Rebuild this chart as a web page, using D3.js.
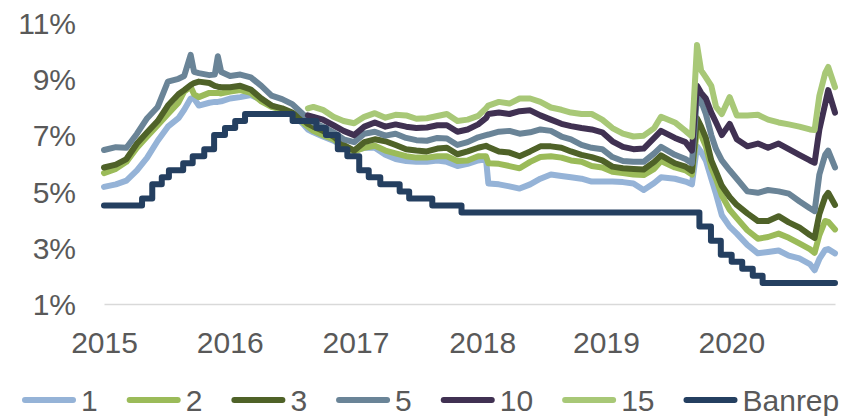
<!DOCTYPE html>
<html>
<head>
<meta charset="utf-8">
<script src="https://cdn.jsdelivr.net/npm/d3@7/dist/d3.min.js"></script>
<style>
  body { margin: 0; background: #fff; }
  text { font-family: "Liberation Sans", Arial, sans-serif; fill: #595959; }
</style>
</head>
<body>
<svg id="chart" width="846" height="416"></svg>
<script>
// observation dates (shared by all the yield series)
var dates = [
  "2015-06-10","2015-07-15","2015-08-15","2015-09-15","2015-10-15","2015-11-15","2015-12-15",
  "2016-01-15","2016-02-01","2016-02-20","2016-03-01","2016-03-15","2016-04-15","2016-05-01","2016-05-10","2016-05-20",
  "2016-06-15","2016-07-15","2016-08-15","2016-09-15","2016-10-15","2016-11-15","2016-12-15",
  "2017-01-15","2017-01-30","2017-02-15","2017-03-15","2017-04-15","2017-05-15","2017-06-15","2017-07-15","2017-08-15",
  "2017-09-15","2017-10-15","2017-11-15","2017-12-15",
  "2018-01-15","2018-02-15","2018-03-15","2018-04-15","2018-05-15","2018-06-15","2018-07-08","2018-07-15","2018-08-15",
  "2018-09-15","2018-10-15","2018-11-15","2018-12-15",
  "2019-01-15","2019-02-15","2019-03-15","2019-04-15","2019-05-15","2019-06-15","2019-07-15","2019-08-15","2019-09-15",
  "2019-10-15","2019-11-15","2019-12-05",
  "2020-01-15","2020-02-15","2020-03-05","2020-03-20","2020-04-01","2020-04-15","2020-05-01","2020-05-15","2020-06-01",
  "2020-06-24","2020-07-15","2020-08-15","2020-09-15","2020-10-15","2020-11-15","2020-12-15",
  "2021-01-15","2021-02-15","2021-03-01","2021-03-15","2021-04-01","2021-04-10","2021-04-30"
];

// yields (%) by tenor in years
var y1 = [
  5.16,5.25,5.38,5.75,6.2,6.8,7.3,
  7.6,7.9,8.3,8.3,8.05,8.15,8.18,8.18,8.2,
  8.3,8.35,8.42,8.25,8.05,7.9,7.75,
  7.4,7.2,7.1,6.95,6.8,6.6,6.45,6.55,6.55,
  6.3,6.15,6.08,6.05,
  6.05,6.1,6.05,5.9,5.98,6.1,6.15,5.28,5.25,
  5.18,5.1,5.25,5.45,
  5.6,5.55,5.5,5.45,5.35,5.35,5.35,5.33,5.28,
  5.05,5.3,5.5,
  5.45,5.35,5.25,6.6,6.4,6.1,5.45,4.9,4.15,
  3.75,3.5,3.1,2.8,2.85,2.9,2.72,
  2.62,2.42,2.2,2.6,2.92,2.95,2.8
];
var y2 = [
  5.65,5.8,6.05,6.55,6.95,7.35,7.75,
  8.15,8.55,8.72,8.45,8.35,8.5,8.5,8.5,8.48,
  8.55,8.6,8.5,8.2,8.0,7.9,7.75,
  7.45,7.3,7.15,7.0,6.85,6.6,6.42,6.55,6.62,
  6.45,6.35,6.25,6.2,
  6.2,6.25,6.25,6.08,6.1,6.25,6.25,6.0,5.98,
  5.9,5.82,6.05,6.22,
  6.25,6.2,6.1,6.05,5.9,5.85,5.7,5.65,5.6,
  5.58,5.8,6.08,
  5.85,5.75,5.6,7.2,7.0,6.6,5.85,5.45,4.85,
  4.35,4.05,3.62,3.32,3.38,3.5,3.35,
  3.15,2.95,2.82,3.45,3.95,3.92,3.65
];
var y3 = [
  5.85,5.95,6.15,6.7,7.1,7.5,8.05,
  8.45,8.6,8.78,8.85,8.9,8.85,8.75,8.72,8.7,
  8.7,8.75,8.62,8.3,8.05,7.95,7.8,
  7.55,7.4,7.3,7.15,6.95,6.65,6.45,6.75,6.85,
  6.78,6.65,6.5,6.45,
  6.42,6.52,6.55,6.32,6.42,6.55,6.62,6.58,6.42,
  6.38,6.25,6.42,6.6,
  6.6,6.55,6.42,6.3,6.22,6.1,5.88,5.82,5.8,
  5.78,6.05,6.28,
  6.0,5.88,5.72,7.6,7.3,6.9,6.1,5.7,5.2,
  4.8,4.52,4.22,3.95,3.95,4.12,3.9,
  3.72,3.45,3.35,4.2,4.8,4.95,4.52
];
var y5 = [
  6.47,6.57,6.55,7.05,7.6,8.0,8.9,
  9.0,9.1,9.85,9.25,9.2,9.13,9.15,9.8,9.24,
  9.1,9.15,9.05,8.75,8.4,8.28,8.1,
  7.75,7.6,7.45,7.3,7.1,6.85,6.75,7.05,7.12,
  6.98,7.05,6.9,6.82,
  6.8,6.9,6.88,6.65,6.75,6.92,7.0,7.02,7.12,
  7.15,7.05,7.1,7.2,
  7.15,6.95,6.85,6.65,6.55,6.5,6.22,6.08,6.05,
  6.05,6.35,6.58,
  6.3,6.15,6.0,8.4,8.2,7.75,7.0,6.5,6.1,
  5.75,5.45,5.0,4.95,5.05,5.0,4.92,
  4.65,4.4,4.3,5.6,6.3,6.45,5.85
];
var y10 = [
  null,null,null,null,null,null,null,
  null,null,null,null,null,null,null,null,null,
  null,null,null,null,null,null,null,
  null,7.7,7.65,7.55,7.35,7.15,7.0,7.3,7.45,
  7.3,7.38,7.3,7.25,
  7.27,7.35,7.35,7.12,7.2,7.38,7.6,7.75,7.8,
  7.75,7.85,7.88,7.7,
  7.55,7.4,7.32,7.25,7.2,7.1,6.78,6.58,6.5,
  6.52,6.9,7.15,
  6.9,6.75,6.45,8.75,8.5,8.3,7.8,7.45,7.0,
  7.4,6.85,6.6,6.7,6.55,6.7,6.5,
  6.3,6.1,6.02,7.2,8.1,8.6,7.8
];
var y15 = [
  null,null,null,null,null,null,null,
  null,null,null,null,null,null,null,null,null,
  null,null,null,null,null,null,null,
  null,7.95,8.0,7.9,7.65,7.5,7.42,7.65,7.78,
  7.62,7.72,7.7,7.58,
  7.6,7.68,7.75,7.5,7.55,7.68,7.95,8.05,8.18,
  8.12,8.3,8.3,8.18,
  7.98,7.9,7.8,7.75,7.75,7.55,7.25,7.05,6.95,
  6.98,7.25,7.65,
  7.45,7.15,6.95,10.2,9.3,9.05,8.75,8.0,7.75,
  8.35,7.7,7.7,7.72,7.55,7.45,7.38,
  7.3,7.2,7.18,8.4,9.2,9.42,8.7
];

// policy rate (Banrep) change dates and levels
var banrepDates = [
  "2015-06-10","2015-09-30","2015-10-30","2015-11-27","2015-12-18","2016-01-29","2016-02-26","2016-03-31",
  "2016-04-29","2016-05-31","2016-06-30","2016-07-29","2016-12-16","2017-02-24","2017-03-24","2017-04-28",
  "2017-05-26","2017-06-30","2017-07-28","2017-08-31","2017-10-27","2017-11-24","2018-01-31","2018-04-27",
  "2020-03-27","2020-04-30","2020-05-29","2020-06-30","2020-07-31","2020-08-31","2020-09-29","2021-04-30"
];
var banrepRates = [
  4.5,4.75,5.25,5.5,5.75,6.0,6.25,6.5,
  7.0,7.25,7.5,7.75,7.5,7.25,7.0,6.5,
  6.25,5.75,5.5,5.25,5.0,4.75,4.5,4.25,
  3.75,3.25,2.75,2.5,2.25,2.0,1.75,1.75
];

var seriesNames = ["1", "2", "3", "5", "10", "15", "Banrep"];
var seriesColors = ["#95b3d7", "#9bbb59", "#4f6228", "#6a8497", "#403152", "#a8c877", "#243f60"];
var yTicks = [1, 3, 5, 7, 9, 11];
var yearLabels = ["2015", "2016", "2017", "2018", "2019", "2020"];
// dates where the year labels sit on the axis
var yearLabelDates = ["2015-06-10", "2016-06-14", "2017-06-19", "2018-06-27", "2019-06-26", "2020-06-29"];

var parseDate = d3.timeParse("%Y-%m-%d");

var svg = d3.select("#chart");

// plot area
var plotLeft = 104, plotRight = 835, plotTop = 22.5, plotBottom = 304;

var x = d3.scaleTime()
    .domain([parseDate("2015-06-10"), parseDate("2021-04-30")])
    .range([plotLeft, plotRight]);

var y = d3.scaleLinear()
    .domain([1, 11])
    .range([plotBottom, plotTop]);

// y axis labels, no line
var yAxis = svg.append("g")
    .attr("transform", "translate(" + (plotLeft - 28) + ",0)")
    .call(d3.axisLeft(y).tickValues(yTicks).tickSize(0).tickPadding(0)
      .tickFormat(function(d) { return d + "%"; }));
yAxis.select(".domain").remove();
yAxis.selectAll("text")
    .style("font-size", "30px")
    .attr("dy", "0.36em");

// x axis with the year labels
var xAxis = svg.append("g")
    .attr("transform", "translate(0," + plotBottom + ")")
    .call(d3.axisBottom(x).tickValues(yearLabelDates.map(parseDate)).tickSize(0).tickPadding(0)
      .tickFormat(function(d, i) { return yearLabels[i]; }));
xAxis.select(".domain")
    .attr("stroke", "#d9d9d9")
    .attr("stroke-width", 1.5);
xAxis.selectAll("text")
    .style("font-size", "30px")
    .attr("y", 49)
    .attr("dy", null);

// yield lines
var parsed = dates.map(parseDate);
var yieldSeries = [y1, y2, y3, y5, y10, y15];

var line = d3.line()
    .defined(function(d) { return d.v != null; })
    .x(function(d) { return x(d.t); })
    .y(function(d) { return y(d.v); });

yieldSeries.forEach(function(vals, k) {
  var data = vals.map(function(v, i) { return {t: parsed[i], v: v}; });
  svg.append("path")
      .datum(data)
      .attr("fill", "none")
      .attr("stroke", seriesColors[k])
      .attr("stroke-width", 6)
      .attr("stroke-linejoin", "round")
      .attr("stroke-linecap", "round")
      .attr("d", line);
});

// Banrep step line
var banrepData = banrepDates.map(function(s, i) { return {t: parseDate(s), v: banrepRates[i]}; });
svg.append("path")
    .datum(banrepData)
    .attr("fill", "none")
    .attr("stroke", seriesColors[6])
    .attr("stroke-width", 6)
    .attr("stroke-linejoin", "round")
    .attr("stroke-linecap", "round")
    .attr("d", line.curve(d3.curveStepAfter));

// legend
var legend = svg.append("g");
var lx = 25, ly = 400;
seriesNames.forEach(function(name, k) {
  legend.append("line")
      .attr("x1", lx).attr("x2", lx + 48)
      .attr("y1", ly).attr("y2", ly)
      .attr("stroke", seriesColors[k])
      .attr("stroke-width", 6)
      .attr("stroke-linecap", "round");
  var t = legend.append("text")
      .attr("x", lx + 56)
      .attr("y", ly)
      .attr("dy", "0.35em")
      .style("font-size", "30px")
      .text(name);
  lx = lx + 56 + t.node().getComputedTextLength() + 32;
});
</script>
</body>
</html>
